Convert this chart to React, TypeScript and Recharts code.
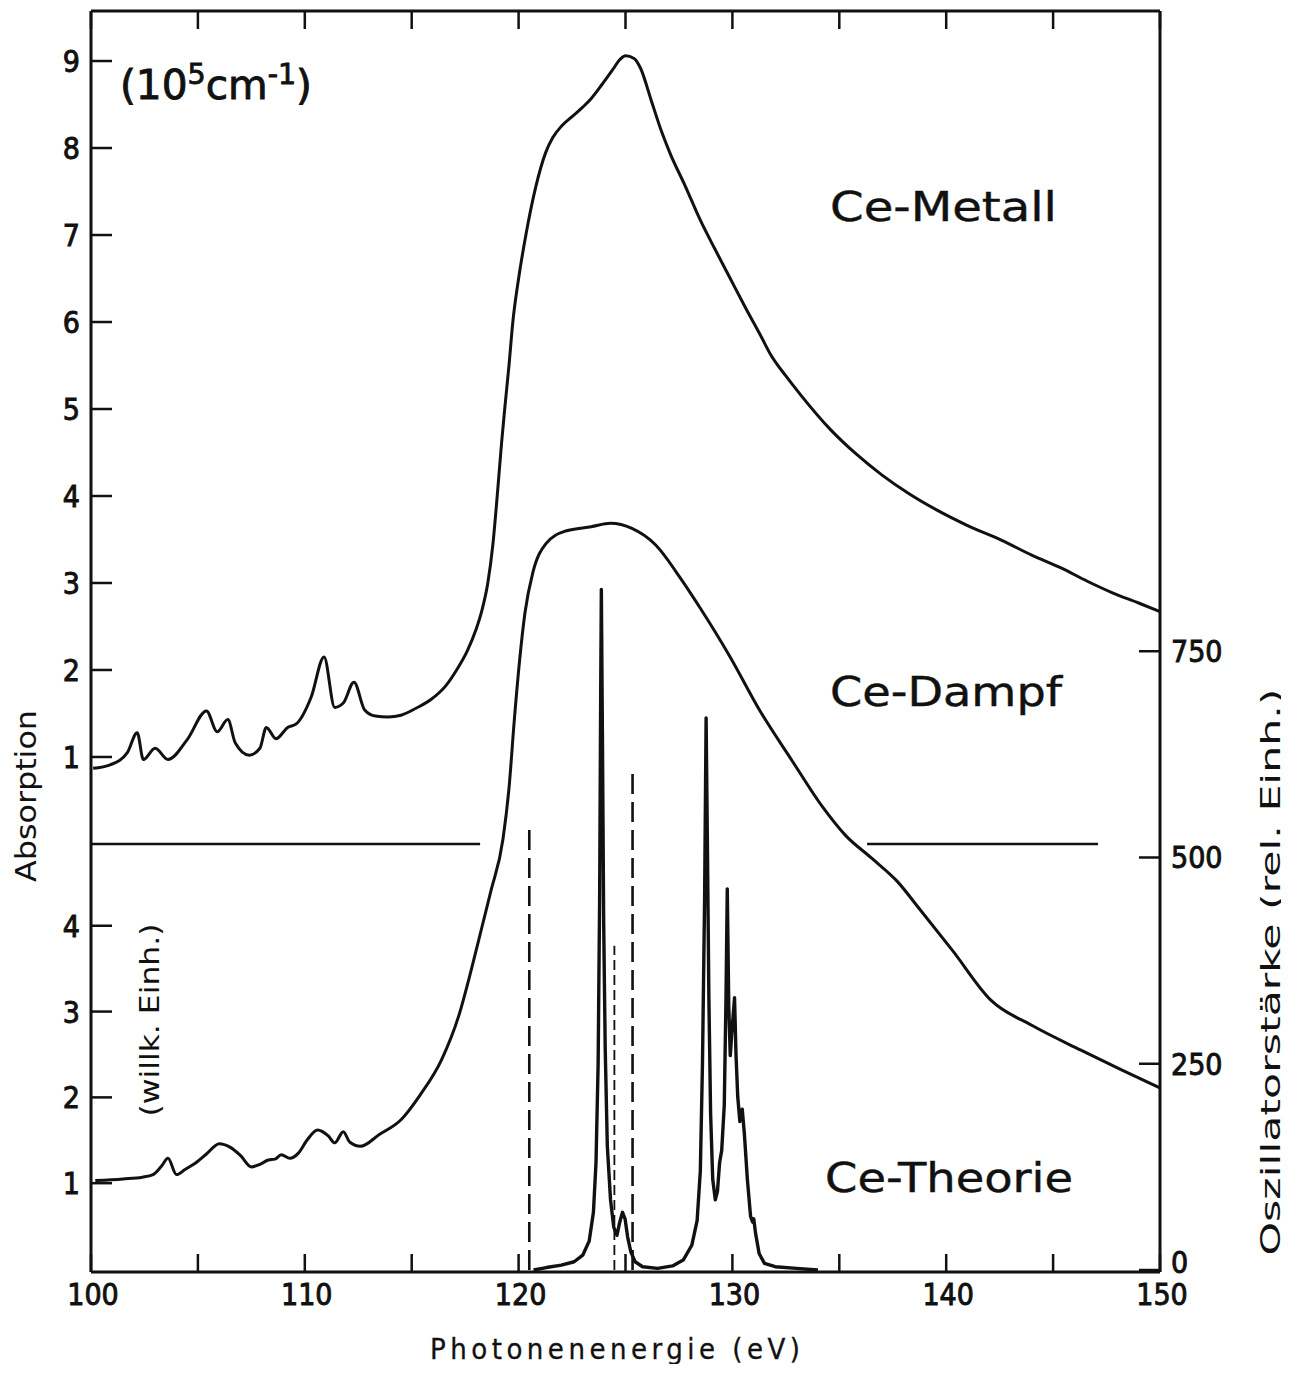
import React from 'react';
import { ComposedChart, Line, XAxis, YAxis, ReferenceLine } from 'recharts';

// ---------- data ----------
const metallEnergy = [100.1, 100.9, 101.7, 102.16, 102.45, 103.0, 103.6, 104.5, 105.4, 105.9, 106.4, 106.75, 107.4, 107.9, 108.2, 108.65, 109.2, 109.6, 110.3, 110.9, 111.4, 111.8, 112.3, 112.8, 113.3, 113.9, 114.5, 115.2, 115.9, 116.6, 117.1, 117.6, 118.0, 118.3, 118.56, 118.8, 119.0, 119.2, 119.35, 119.55, 119.73, 120.0, 120.34, 120.8, 121.27, 121.6, 122.0, 122.5, 123.0, 123.4, 123.9, 124.4, 124.75, 125.0, 125.4, 125.7, 126.2, 126.7, 127.1, 127.8, 128.5, 129.2, 129.9, 130.6, 131.35, 131.8, 132.5, 133.2, 134.6, 135.8, 137.0, 138.3, 139.55, 141.0, 142.6, 144.0, 145.4, 146.6, 147.75, 149.0, 150.0];
const metallValue = [0.87, 0.91, 1.05, 1.28, 0.97, 1.10, 0.97, 1.20, 1.53, 1.29, 1.43, 1.16, 1.02, 1.10, 1.34, 1.21, 1.34, 1.38, 1.69, 2.15, 1.57, 1.62, 1.86, 1.54, 1.47, 1.46, 1.48, 1.56, 1.66, 1.82, 2.0, 2.22, 2.46, 2.7, 3.0, 3.45, 4.0, 4.6, 5.0, 5.5, 6.0, 6.5, 7.0, 7.55, 7.95, 8.12, 8.25, 8.36, 8.47, 8.57, 8.73, 8.9, 9.02, 9.06, 9.03, 8.92, 8.55, 8.18, 7.93, 7.56, 7.17, 6.83, 6.5, 6.17, 5.83, 5.62, 5.38, 5.16, 4.76, 4.48, 4.24, 4.02, 3.84, 3.66, 3.49, 3.32, 3.17, 3.02, 2.89, 2.77, 2.67];

const dampfEnergy = [100.2, 101.5, 102.4, 102.9, 103.3, 103.6, 104.0, 104.4, 104.8, 105.4, 106.0, 106.5, 107.0, 107.5, 107.9, 108.3, 108.6, 108.9, 109.3, 109.7, 110.1, 110.6, 111.1, 111.4, 111.8, 112.1, 112.6, 113.5, 114.5, 115.4, 116.4, 117.2, 117.8, 118.3, 118.7, 119.27, 119.55, 119.8, 120.05, 120.3, 120.67, 121.27, 122.2, 123.4, 124.3, 125.3, 126.4, 127.6, 128.5, 129.9, 131.3, 132.8, 134.2, 135.3, 136.5, 137.7, 138.8, 140.3, 142.1, 144.0, 146.3, 148.2, 150.0];
const dampfValue = [1.03, 1.05, 1.07, 1.10, 1.2, 1.29, 1.10, 1.16, 1.22, 1.34, 1.46, 1.42, 1.32, 1.19, 1.22, 1.27, 1.28, 1.33, 1.29, 1.35, 1.5, 1.62, 1.55, 1.47, 1.6, 1.48, 1.43, 1.57, 1.74, 2.03, 2.44, 2.95, 3.5, 4.0, 4.4, 5.01, 5.6, 6.4, 7.1, 7.65, 8.12, 8.45, 8.6, 8.65, 8.69, 8.63, 8.44, 8.04, 7.7, 7.13, 6.5, 5.92, 5.39, 5.05, 4.79, 4.52, 4.18, 3.71, 3.13, 2.84, 2.55, 2.32, 2.11];

const theorieEnergy = [120.7, 121.3, 122.0, 122.6, 123.0, 123.3, 123.5, 123.62, 123.72, 123.79, 123.84, 123.87, 123.92, 123.98, 124.05, 124.15, 124.3, 124.45, 124.6, 124.73, 124.86, 124.98, 125.1, 125.25, 125.45, 125.8, 126.5, 127.2, 127.7, 128.1, 128.35, 128.5, 128.6, 128.7, 128.77, 128.83, 128.9, 128.98, 129.08, 129.2, 129.3, 129.4, 129.5, 129.62, 129.7, 129.76, 129.83, 129.9, 129.98, 130.1, 130.17, 130.25, 130.35, 130.46, 130.56, 130.7, 130.85, 130.95, 131.0, 131.08, 131.25, 131.5, 132.0, 133.0, 134.0];
const theorieValue = [0, 3, 6, 10, 18, 35, 70, 130, 250, 450, 700, 825, 650, 420, 270, 150, 85, 52, 42, 58, 70, 62, 40, 22, 10, 4, 2, 5, 12, 30, 60, 120, 250, 450, 669, 520, 330, 190, 110, 85, 95, 130, 145, 200, 330, 462, 320, 260, 290, 330, 260, 210, 180, 195, 165, 110, 65, 58, 62, 45, 20, 8, 4, 2, 0];

// theoretical discrete lines (dashed sticks)
const stickEnergy = [120.5, 124.48, 125.33];
const stickStrength = [539, 393, 602];

// horizontal separator of the two panels (energy ranges, at zero of upper panel)
const separatorStart = [100, 136.3];
const separatorEnd = [118.2, 147.1];

// ticks
const xTicks = [100, 105, 110, 115, 120, 125, 130, 135, 140, 145, 150];
const upperTicks = [1, 2, 3, 4, 5, 6, 7, 8, 9];
const lowerTicks = [1, 2, 3, 4];
const oscTicks = [0, 250, 500, 750];

// ---------- axis geometry ----------
const UPPER_DOMAIN: [number, number] = [-4.92, 9.575];
const LOWER_DOMAIN: [number, number] = [-0.035, 14.66];
const OSC_DOMAIN: [number, number] = [-2.4, 1526];

const lowerToUpper = (u: number) => {
  const f = (u - LOWER_DOMAIN[0]) / (LOWER_DOMAIN[1] - LOWER_DOMAIN[0]);
  return UPPER_DOMAIN[0] + f * (UPPER_DOMAIN[1] - UPPER_DOMAIN[0]);
};

const leftTickValues = [...lowerTicks.map(lowerToUpper), ...upperTicks];
const leftTickLabels = [...lowerTicks.map(String), ...upperTicks.map(String)];

const toPoints = (xs: number[], ys: number[]) => xs.map((x, i) => ({ x, y: ys[i] }));
const metallData = toPoints(metallEnergy, metallValue);
const dampfData = toPoints(dampfEnergy, dampfValue);
const theorieData = toPoints(theorieEnergy, theorieValue);

const FONT = "'DejaVu Sans Condensed', 'DejaVu Sans', sans-serif";
const INK = '#111';

const labelForLeft = (v: number) => {
  let best = 0;
  let d = Infinity;
  leftTickValues.forEach((t, i) => {
    if (Math.abs(t - v) < d) {
      d = Math.abs(t - v);
      best = i;
    }
  });
  return leftTickLabels[best];
};

const tickText = { fontSize: 30, fontFamily: FONT, fill: INK, stroke: INK, strokeWidth: 0.9 };

const LeftTick = (props: any) => {
  const { x, y, payload } = props;
  return (
    <g>
      <line x1={x} x2={x + 21} y1={y} y2={y} stroke={INK} strokeWidth={2.5} />
      <text x={x - 11} y={y + 11} textAnchor="end" {...tickText}>
        {labelForLeft(payload.value)}
      </text>
    </g>
  );
};

const RightTick = (props: any) => {
  const { x, y, payload } = props;
  const shift = payload.value === 0 ? -8 : 0;
  return (
    <g>
      <line x1={x - 21} x2={x} y1={y} y2={y} stroke={INK} strokeWidth={2.5} />
      <text x={x + 11} y={y + 11 + shift} textAnchor="start" {...tickText}>
        {payload.value}
      </text>
    </g>
  );
};

const BottomTick = (props: any) => {
  const { x, y, payload } = props;
  return (
    <g>
      <line x1={x} x2={x} y1={y} y2={y - 18} stroke={INK} strokeWidth={2.5} />
      {payload.value % 10 === 0 && (
        <text x={x + 2} y={y + 33} textAnchor="middle" {...tickText}>
          {payload.value}
        </text>
      )}
    </g>
  );
};

const TopTick = (props: any) => {
  const { x, y } = props;
  return <line x1={x} x2={x} y1={y} y2={y + 18} stroke={INK} strokeWidth={2.5} />;
};

const stickDash = ['20 8', '10 5', '20 8'];
const stickWidth = [2.6, 1.8, 2.6];

export default function App() {
  const W = 1272;
  const H = 1356;
  return (
    <div style={{ position: 'relative', width: W, height: H, background: '#fff' }}>
      <ComposedChart width={W} height={H} margin={{ top: 2, right: 0, bottom: 0, left: 0 }}>
        <XAxis
          xAxisId="bottom"
          dataKey="x"
          type="number"
          domain={[100, 150]}
          allowDataOverflow
          ticks={xTicks}
          interval={0}
          height={92}
          tickSize={0}
          tickMargin={0}
          tickLine={false}
          axisLine={{ stroke: INK, strokeWidth: 3 }}
          tick={<BottomTick />}
        />
        <XAxis
          xAxisId="top"
          orientation="top"
          dataKey="x"
          type="number"
          domain={[100, 150]}
          allowDataOverflow
          ticks={xTicks}
          interval={0}
          height={1}
          tickSize={0}
          tickMargin={0}
          tickLine={false}
          axisLine={{ stroke: INK, strokeWidth: 3 }}
          tick={<TopTick />}
        />
        <YAxis
          yAxisId="upper"
          orientation="left"
          type="number"
          domain={UPPER_DOMAIN}
          allowDataOverflow
          ticks={leftTickValues}
          interval={0}
          width={83}
          tickSize={0}
          tickMargin={0}
          tickLine={false}
          axisLine={{ stroke: INK, strokeWidth: 3 }}
          tick={<LeftTick />}
        />
        <YAxis
          yAxisId="lower"
          orientation="right"
          type="number"
          domain={LOWER_DOMAIN}
          allowDataOverflow
          width={0}
          hide
        />
        <YAxis
          yAxisId="osc"
          orientation="right"
          type="number"
          domain={OSC_DOMAIN}
          allowDataOverflow
          ticks={oscTicks}
          interval={0}
          width={120}
          tickSize={0}
          tickMargin={0}
          tickLine={false}
          axisLine={{ stroke: INK, strokeWidth: 3 }}
          tick={<RightTick />}
        />

        {separatorStart.map((s, i) => (
          <ReferenceLine
            key={'sep' + i}
            xAxisId="bottom"
            yAxisId="upper"
            segment={[
              { x: s, y: 0 },
              { x: separatorEnd[i], y: 0 },
            ]}
            stroke={INK}
            strokeWidth={2.6}
          />
        ))}

        {stickEnergy.map((e, i) => (
          <ReferenceLine
            key={'stick' + i}
            xAxisId="bottom"
            yAxisId="osc"
            segment={[
              { x: e, y: 0 },
              { x: e, y: stickStrength[i] },
            ]}
            stroke={INK}
            strokeWidth={stickWidth[i]}
            strokeDasharray={stickDash[i]}
          />
        ))}

        <Line
          xAxisId="bottom"
          yAxisId="upper"
          data={metallData}
          dataKey="y"
          type="monotone"
          stroke={INK}
          strokeWidth={3}
          dot={false}
          activeDot={false}
          isAnimationActive={false}
        />
        <Line
          xAxisId="bottom"
          yAxisId="lower"
          data={dampfData}
          dataKey="y"
          type="monotone"
          stroke={INK}
          strokeWidth={3}
          dot={false}
          activeDot={false}
          isAnimationActive={false}
        />
        <Line
          xAxisId="bottom"
          yAxisId="osc"
          data={theorieData}
          dataKey="y"
          type="linear"
          stroke={INK}
          strokeWidth={3.4}
          strokeLinejoin="round"
          dot={false}
          activeDot={false}
          isAnimationActive={false}
        />
      </ComposedChart>

      <svg
        width={1281}
        height={1364}
        style={{ position: 'absolute', left: 0, top: 0, pointerEvents: 'none', overflow: 'visible' }}
        fontFamily={FONT}
        fill={INK}
      >
        <text x={112} y={91} fontSize={40} stroke={INK} strokeWidth={0.8} textLength={192} lengthAdjust="spacingAndGlyphs">
          (10
          <tspan fontSize={28} dy={-15}>5</tspan>
          <tspan dy={15}>cm</tspan>
          <tspan fontSize={28} dy={-15}>-1</tspan>
          <tspan dy={15}>)</tspan>
        </text>
        <text x={822} y={213} fontSize={40} stroke={INK} strokeWidth={0.4} textLength={227} lengthAdjust="spacingAndGlyphs">
          Ce-Metall
        </text>
        <text x={822} y={698} fontSize={40} stroke={INK} strokeWidth={0.4} textLength={232} lengthAdjust="spacingAndGlyphs">
          Ce-Dampf
        </text>
        <text x={817} y={1184} fontSize={40} stroke={INK} strokeWidth={0.4} textLength={248} lengthAdjust="spacingAndGlyphs">
          Ce-Theorie
        </text>
        <text
          x={0}
          y={0}
          fontSize={28}
          textAnchor="middle"
          textLength={172}
          lengthAdjust="spacingAndGlyphs"
          transform="translate(28 788) rotate(-90)"
        >
          Absorption
        </text>
        <text
          x={0}
          y={0}
          fontSize={26}
          textAnchor="middle"
          textLength={193}
          lengthAdjust="spacingAndGlyphs"
          transform="translate(151 1012) rotate(-90)"
        >
          (willk. Einh.)
        </text>
        <text
          x={0}
          y={0}
          fontSize={26}
          textAnchor="middle"
          textLength={567}
          lengthAdjust="spacingAndGlyphs"
          transform="translate(1272 964) rotate(-90)"
        >
          Oszillatorstärke (rel. Einh.)
        </text>
        <text x={607} y={1351} fontSize={29} stroke={INK} strokeWidth={0.3} textAnchor="middle" textLength={370} lengthAdjust="spacing">
          Photonenenergie (eV)
        </text>
      </svg>
    </div>
  );
}
